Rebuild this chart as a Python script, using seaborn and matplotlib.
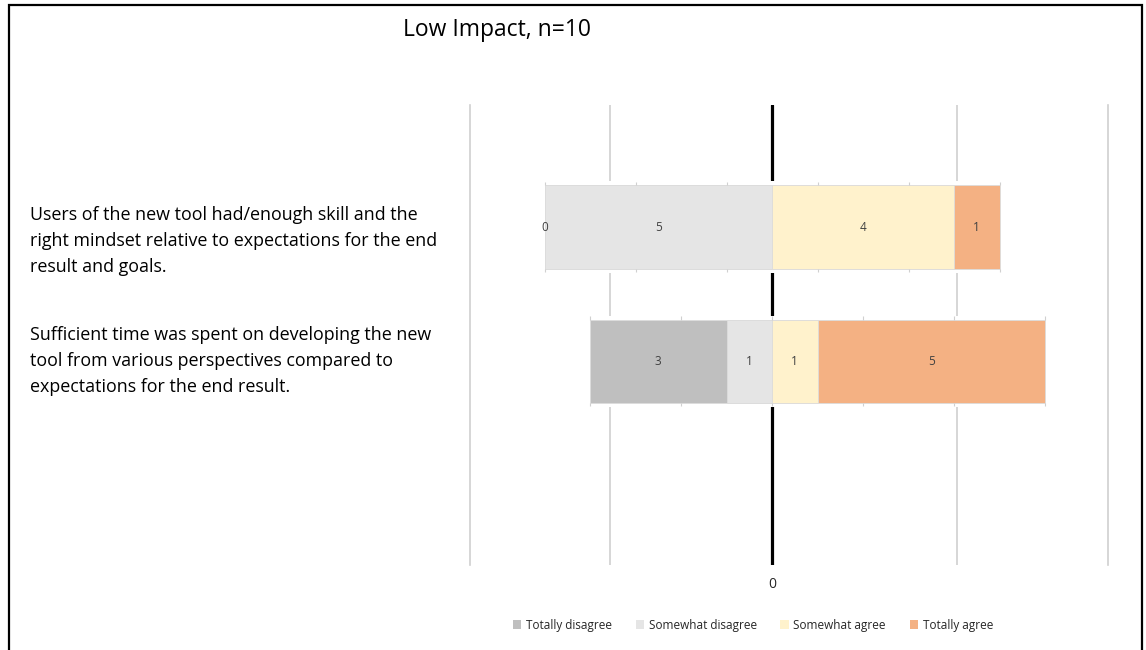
import matplotlib.pyplot as plt
import matplotlib.patches as mpatches
import numpy as np
import pandas as pd
import seaborn as sns

statements = [
    "Users of the new tool had/enough skill and the\nright mindset relative to expectations for the end\nresult and goals.",
    "Sufficient time was spent on developing the new\ntool from various perspectives compared to\nexpectations for the end result.",
]
categories = ["Totally disagree", "Somewhat disagree", "Somewhat agree", "Totally agree"]
totally_disagree = [0, 3]
somewhat_disagree = [5, 1]
somewhat_agree = [4, 1]
totally_agree = [1, 5]
colors = ["#BFBFBF", "#E5E5E5", "#FFF2CC", "#F4B183"]

W, H = 1146, 650


def fx(px):
    return px / W


def fy(py):
    return 1 - py / H


df = pd.DataFrame({
    "row": ["r0", "r1"],
    "td": totally_disagree,
    "sd": somewhat_disagree,
    "sa": somewhat_agree,
    "ta": totally_agree,
})
df["neg_outer"] = -(df["td"] + df["sd"])
df["neg_inner"] = -df["sd"]
df["pos_outer"] = df["sa"] + df["ta"]
df["pos_inner"] = df["sa"]

sns.set_style("white")
plt.rcParams["font.family"] = ["Open Sans", "DejaVu Sans"]

fig = plt.figure(figsize=(W / 100, H / 100), dpi=100)
ax = fig.add_axes([fx(470), fy(565), fx(1108) - fx(470), (565 - 105) / H])

bar_w = 0.62
# white band behind each bar (hides gridlines just above/below the bars)
for col in ["neg_outer", "pos_outer"]:
    sns.barplot(data=df, x=col, y="row", orient="h", color="white", width=bar_w + 0.06,
                linewidth=0, saturation=1, ax=ax, zorder=1.5)

layers = [("neg_outer", colors[0]), ("neg_inner", colors[1]),
          ("pos_outer", colors[3]), ("pos_inner", colors[2])]
for col, c in layers:
    sns.barplot(data=df, x=col, y="row", orient="h", color=c, width=bar_w,
                edgecolor="#DCDCDC", linewidth=0.6, saturation=1, ax=ax, zorder=2)

unit = 45.5  # pixels per response
ax.set_xlim((470 - 772) / unit, (1108 - 772) / unit)
ax.set_ylim(2.52, -0.91)

# background gridlines
for g in [(610 - 772) / unit, (957 - 772) / unit]:
    ax.axvline(g, color="#D0D0D0", lw=1.2, zorder=0)
ax.axvline(0, color="black", lw=2.3, zorder=1)

# small tick marks along each bar's edges (every 2 responses)
for i, (lo, hi) in enumerate(zip(df["neg_outer"], df["pos_outer"])):
    xs = np.arange(lo, hi + 0.01, 2)
    ax.vlines(xs, i - bar_w / 2 - 0.025, i - bar_w / 2, color="#D0D0D0", lw=0.8, zorder=2.5)
    ax.vlines(xs, i + bar_w / 2, i + bar_w / 2 + 0.025, color="#D0D0D0", lw=0.8, zorder=2.5)

# value labels
for i in range(len(df)):
    segs = [
        (-(totally_disagree[i] + somewhat_disagree[i]), totally_disagree[i]),
        (-somewhat_disagree[i], somewhat_disagree[i]),
        (0, somewhat_agree[i]),
        (somewhat_agree[i], totally_agree[i]),
    ]
    for left, v in segs:
        ax.text(left + v / 2, i, str(v), ha="center", va="center",
                fontsize=8.5, color="#404040", zorder=3)

ax.set_xticks([])
ax.set_yticks([])
ax.set_xlabel("")
ax.set_ylabel("")
for s in ["top", "bottom"]:
    ax.spines[s].set_visible(False)
for s in ["left", "right"]:
    ax.spines[s].set_color("#D0D0D0")
    ax.spines[s].set_linewidth(1.2)

ax.text(0, -0.043, "0", transform=ax.get_xaxis_transform(), ha="center",
        va="center", fontsize=10, color="#262626")

# statements on the left
for s, ypx in zip(statements, [241, 361]):
    fig.text(fx(30), fy(ypx), s, ha="left", va="center",
             fontsize=12.9, color="black", linespacing=1.6)

fig.text(fx(497), fy(30), "Low Impact, n=10", ha="center", va="center",
         fontsize=16.5, color="black")

handles = [mpatches.Patch(facecolor=c, edgecolor="none") for c in colors]
fig.legend(handles, categories, loc="center", bbox_to_anchor=(fx(753), fy(625)),
           ncol=4, frameon=False, fontsize=8.5, handlelength=0.7,
           handleheight=0.7, handletextpad=0.4, columnspacing=2.0)

fig.patches.append(mpatches.Rectangle((fx(9), fy(680)), fx(1142) - fx(9),
                                      (680 - 5) / H, transform=fig.transFigure,
                                      fill=False, edgecolor="black", lw=1.6))

fig.savefig("out.png", dpi=100)
